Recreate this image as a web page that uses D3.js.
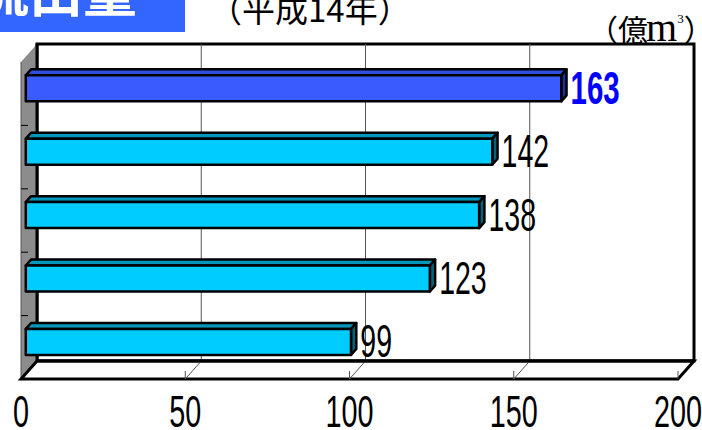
<!DOCTYPE html>
<html>
<head>
<meta charset="utf-8">
<script src="https://cdn.jsdelivr.net/npm/d3@7"></script>
<style>
  html, body { margin: 0; padding: 0; background: #fff; overflow: hidden; }
  svg { display: block; }
</style>
</head>
<body>
<svg id="chart" width="702" height="430"></svg>
<script>
// 流出量（平成14年）, 単位: 億m³ — top to bottom
const ranks = [1, 2, 3, 4, 5];
const outflow = [163, 142, 138, 123, 99];
const highlighted = [true, false, false, false, false];
const xTicks = [0, 50, 100, 150, 200];
const gridValues = [50, 100, 150];

const svg = d3.select("#chart");

// front plane scales; the back wall sits one "depth" step up and to the right
const x = d3.scaleLinear().domain([0, 200]).range([21, 678]);
const y = d3.scaleBand().domain(ranks).range([62, 379])
  .paddingInner(0.59).paddingOuter(0.295);
const yCat = d3.scaleBand().domain(ranks).range([62, 379]).padding(0);
const depth = { dx: 16, dy: -18 };
const barNear = 0.30, barFar = 0.63;

const bx = v => x(v) + depth.dx;
const backTop = yCat.range()[0] + depth.dy;
const backBottom = yCat.range()[1] + depth.dy;
const floorFront = yCat.range()[1];

// back wall
svg.append("rect")
  .attr("x", bx(0)).attr("y", backTop)
  .attr("width", bx(200) - bx(0)).attr("height", backBottom - backTop)
  .attr("fill", "#fff").attr("stroke", "#000").attr("stroke-width", 3);

// vertical gridlines on the back wall
svg.append("g").selectAll("line").data(gridValues).join("line")
  .attr("x1", d => bx(d)).attr("x2", d => bx(d))
  .attr("y1", backTop).attr("y2", backBottom)
  .attr("stroke", "#555").attr("stroke-width", 1);

// left side wall
svg.append("path")
  .attr("d", d3.line()([
    [x(0), yCat.range()[0]], [bx(0), backTop],
    [bx(0), backBottom], [x(0), floorFront]
  ]) + "Z")
  .attr("fill", "#8c8c8c").attr("stroke", "none");
svg.append("line")
  .attr("x1", x(0)).attr("x2", x(0))
  .attr("y1", yCat.range()[0]).attr("y2", floorFront)
  .attr("stroke", "#555").attr("stroke-width", 1);
svg.append("line")
  .attr("x1", bx(0)).attr("x2", bx(0))
  .attr("y1", backTop).attr("y2", backBottom)
  .attr("stroke", "#000").attr("stroke-width", 3);

// category ticks on the side wall
svg.append("g").selectAll("line").data(ranks.slice(1)).join("line")
  .attr("x1", x(0)).attr("x2", x(0) + 7)
  .attr("y1", d => yCat(d)).attr("y2", d => yCat(d))
  .attr("stroke", "#000").attr("stroke-width", 1);

// floor
svg.append("path")
  .attr("d", d3.line()([
    [x(0), floorFront], [bx(0), backBottom],
    [bx(200), backBottom], [x(200), floorFront]
  ]) + "Z")
  .attr("fill", "#fff").attr("stroke", "#000").attr("stroke-width", 3)
  .attr("stroke-linejoin", "miter");

// floor gridlines and front ticks
svg.append("g").selectAll("line").data(gridValues).join("line")
  .attr("x1", d => bx(d)).attr("y1", backBottom)
  .attr("x2", d => x(d)).attr("y2", floorFront)
  .attr("stroke", "#555").attr("stroke-width", 1);
svg.append("g").selectAll("line").data(xTicks.slice(1)).join("line")
  .attr("x1", d => x(d)).attr("x2", d => x(d))
  .attr("y1", floorFront - 8).attr("y2", floorFront)
  .attr("stroke", "#555").attr("stroke-width", 1);

// thick back edge of the floor
svg.append("line")
  .attr("x1", bx(0)).attr("x2", bx(200))
  .attr("y1", backBottom).attr("y2", backBottom)
  .attr("stroke", "#000").attr("stroke-width", 3);

// 3D bars
const bars = ranks.map((r, i) => ({ rank: r, value: outflow[i], hi: highlighted[i] }));
const ox = depth.dx * barNear, oy = depth.dy * barNear;
const ddx = depth.dx * (barFar - barNear), ddy = depth.dy * (barFar - barNear);
const h = y.bandwidth();

const palette = {
  hi: { front: "#3a5cff", top: "#2f4ee0", side: "#1c2f9c", label: "#0000ff" },
  lo: { front: "#00ccff", top: "#0099bb", side: "#00647f", label: "#000" }
};

const gBars = svg.append("g");
bars.forEach(b => {
  const c = b.hi ? palette.hi : palette.lo;
  const x0 = x(0) + ox, x1 = x(b.value) + ox;
  const t = y(b.rank) + oy;
  const g = gBars.append("g")
    .attr("stroke", "#000").attr("stroke-width", 2.5).attr("stroke-linejoin", "round");
  g.append("path")
    .attr("d", d3.line()([[x0, t], [x0 + ddx, t + ddy], [x1 + ddx, t + ddy], [x1, t]]) + "Z")
    .attr("fill", c.top);
  g.append("path")
    .attr("d", d3.line()([[x1, t], [x1 + ddx, t + ddy], [x1 + ddx, t + h + ddy], [x1, t + h]]) + "Z")
    .attr("fill", c.side);
  g.append("rect")
    .attr("x", x0).attr("y", t).attr("width", x1 - x0).attr("height", h)
    .attr("fill", c.front);

  // value label
  svg.append("text")
    .attr("transform", `translate(${x1 + ddx + 4},${t + h / 2 + 15.5}) scale(${b.hi ? 0.64 : 0.62},1)`)
    .attr("font-family", "'Liberation Sans', Arial, sans-serif")
    .attr("font-size", 46)
    .attr("font-weight", b.hi ? "bold" : "normal")
    .attr("fill", c.label)
    .text(b.value);
});

// x axis labels
svg.append("g").selectAll("text").data(xTicks).join("text")
  .attr("transform", d => `translate(${x(d)},427) scale(0.64,1)`)
  .attr("text-anchor", "middle")
  .attr("font-family", "'Liberation Sans', Arial, sans-serif")
  .attr("font-size", 45)
  .attr("fill", "#000")
  .text(d => d);

// title badge
svg.append("rect").attr("x", 0).attr("y", 0).attr("width", 185).attr("height", 32)
  .attr("fill", "#3366ff");
svg.append("text")
  .attr("x", -25).attr("y", 12)
  .attr("font-family", "'Noto Sans CJK JP', sans-serif")
  .attr("font-weight", "bold").attr("font-size", 54)
  .attr("fill", "#fff")
  .text("流出量");

svg.append("text")
  .attr("x", 209).attr("y", 22)
  .attr("font-family", "'Noto Sans CJK JP', sans-serif")
  .attr("font-size", 33)
  .attr("fill", "#000")
  .text("（平成14年）");

// unit
const unit = svg.append("text")
  .attr("x", 588).attr("y", 41)
  .attr("fill", "#000");
unit.append("tspan").attr("font-family", "'Noto Sans CJK JP', sans-serif").attr("font-size", 30).text("（億");
unit.append("tspan").attr("font-family", "'Liberation Serif', serif").attr("font-size", 40).attr("dx", -2).text("m");
unit.append("tspan").attr("font-family", "'Liberation Serif', serif").attr("font-size", 13).attr("dy", -18).text("3");
unit.append("tspan").attr("font-family", "'Noto Sans CJK JP', sans-serif").attr("font-size", 30).attr("dy", 18).text("）");
</script>
</body>
</html>
